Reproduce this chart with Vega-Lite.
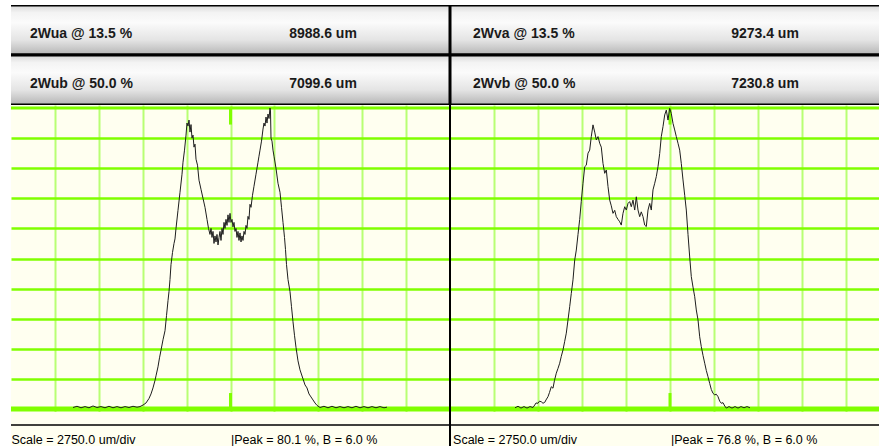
{
  "$schema": "https://vega.github.io/schema/vega-lite/v6.json",
  "background": "white",
  "padding": {"left": 8, "top": 5, "right": 0, "bottom": 0},
  "config": {
    "view": {"stroke": null},
    "axis": {"labels": false, "ticks": false, "domain": false, "minExtent": 0, "maxExtent": 0, "grid": true, "tickCount": 20},
    "axisX": {"gridColor": "#b8ff73", "gridWidth": 2},
    "axisY": {"gridColor": "#80ff00", "gridWidth": 2.5},
    "text": {"font": "Liberation Sans, Arial, sans-serif"}
  },
  "datasets": {
    "hdrL": [
      {"row": "a", "name": "2Wua @ 13.5 %", "val": "8988.6 um"},
      {"row": "b", "name": "2Wub @ 50.0 %", "val": "7099.6 um"}
    ],
    "hdrR": [
      {"row": "a", "name": "2Wva @ 13.5 %", "val": "9273.4 um"},
      {"row": "b", "name": "2Wvb @ 50.0 %", "val": "7230.8 um"}
    ],
    "left": [
      {"x":-9866,"y":0.5},{"x":-9615,"y":0.9},{"x":-9365,"y":0.4},{"x":-9114,"y":0.8},{"x":-8864,"y":0.4},{"x":-8613,"y":1.0},{"x":-8363,"y":0.5},{"x":-8112,"y":0.8},{"x":-7861,"y":0.4},{"x":-7611,"y":0.9},{"x":-7360,"y":0.4},{"x":-7110,"y":0.8},{"x":-6859,"y":0.4},{"x":-6609,"y":0.8},{"x":-6358,"y":0.5},{"x":-6107,"y":0.9},{"x":-5857,"y":0.6},{"x":-5669,"y":0.8},{"x":-5481,"y":1.3},{"x":-5293,"y":2.0},{"x":-5105,"y":3.5},{"x":-4980,"y":5},{"x":-4855,"y":7},{"x":-4729,"y":9.5},{"x":-4667,"y":11},{"x":-4542,"y":14},{"x":-4447,"y":17},{"x":-4354,"y":19.5},{"x":-4228,"y":23},{"x":-4103,"y":26},{"x":-4009,"y":31},{"x":-3915,"y":36},{"x":-3852,"y":39},{"x":-3790,"y":43},{"x":-3727,"y":48},{"x":-3633,"y":52},{"x":-3539,"y":55},{"x":-3477,"y":56.5},{"x":-3414,"y":60},{"x":-3289,"y":66},{"x":-3163,"y":72},{"x":-3038,"y":78},{"x":-2975,"y":82},{"x":-2881,"y":86},{"x":-2787,"y":91},{"x":-2725,"y":95},{"x":-2662,"y":94},{"x":-2599,"y":96},{"x":-2537,"y":92},{"x":-2474,"y":94.5},{"x":-2412,"y":90},{"x":-2349,"y":91},{"x":-2286,"y":87},{"x":-2224,"y":88},{"x":-2161,"y":83},{"x":-2067,"y":81},{"x":-1973,"y":76},{"x":-1848,"y":73},{"x":-1723,"y":70},{"x":-1597,"y":67},{"x":-1472,"y":63},{"x":-1378,"y":60},{"x":-1284,"y":58},{"x":-1221,"y":60},{"x":-1159,"y":57},{"x":-1096,"y":59},{"x":-1033,"y":55},{"x":-971,"y":57.5},{"x":-908,"y":55.5},{"x":-846,"y":58},{"x":-783,"y":54.5},{"x":-720,"y":57},{"x":-658,"y":59},{"x":-595,"y":56},{"x":-532,"y":60},{"x":-470,"y":58},{"x":-407,"y":62},{"x":-345,"y":60},{"x":-282,"y":63},{"x":-219,"y":61},{"x":-157,"y":64.5},{"x":-94,"y":62},{"x":-31,"y":65},{"x":31,"y":62},{"x":94,"y":63},{"x":157,"y":60.5},{"x":219,"y":62},{"x":282,"y":59},{"x":345,"y":60},{"x":407,"y":57},{"x":470,"y":59},{"x":532,"y":56},{"x":595,"y":58.5},{"x":658,"y":55.5},{"x":720,"y":57.5},{"x":783,"y":56},{"x":846,"y":59},{"x":908,"y":58},{"x":971,"y":61},{"x":1033,"y":60},{"x":1096,"y":64},{"x":1159,"y":63},{"x":1221,"y":68},{"x":1284,"y":67},{"x":1378,"y":71},{"x":1472,"y":74},{"x":1597,"y":78},{"x":1723,"y":82},{"x":1785,"y":84},{"x":1848,"y":86},{"x":1942,"y":89},{"x":2036,"y":93},{"x":2098,"y":95},{"x":2161,"y":94},{"x":2224,"y":97},{"x":2286,"y":95},{"x":2349,"y":98},{"x":2412,"y":96.5},{"x":2474,"y":100},{"x":2505,"y":99},{"x":2537,"y":90},{"x":2599,"y":89},{"x":2662,"y":86},{"x":2725,"y":84},{"x":2850,"y":80},{"x":2975,"y":75},{"x":3101,"y":72},{"x":3195,"y":67},{"x":3289,"y":62},{"x":3383,"y":57},{"x":3445,"y":53},{"x":3508,"y":48},{"x":3602,"y":43},{"x":3727,"y":39},{"x":3821,"y":34},{"x":3915,"y":29},{"x":4009,"y":24.5},{"x":4103,"y":20.5},{"x":4228,"y":16},{"x":4354,"y":13},{"x":4542,"y":10},{"x":4667,"y":8},{"x":4792,"y":7},{"x":4917,"y":5},{"x":5042,"y":4},{"x":5168,"y":3},{"x":5293,"y":2},{"x":5418,"y":1.2},{"x":5606,"y":0.5},{"x":5857,"y":0.9},{"x":6107,"y":0.4},{"x":6358,"y":0.9},{"x":6609,"y":0.4},{"x":6859,"y":0.8},{"x":7110,"y":0.4},{"x":7360,"y":0.8},{"x":7611,"y":0.4},{"x":7861,"y":0.9},{"x":8112,"y":0.4},{"x":8363,"y":0.8},{"x":8613,"y":0.4},{"x":8864,"y":0.8},{"x":9114,"y":0.4},{"x":9365,"y":0.8},{"x":9615,"y":0.4},{"x":9803,"y":0.6}
    ],
    "right": [
      {"x":-9688,"y":0.4},{"x":-9500,"y":0.9},{"x":-9313,"y":0.3},{"x":-9125,"y":0.8},{"x":-8938,"y":0.3},{"x":-8750,"y":0.8},{"x":-8563,"y":0.5},{"x":-8456,"y":1.3},{"x":-8375,"y":2.0},{"x":-8250,"y":1.9},{"x":-8156,"y":2.6},{"x":-8044,"y":2.4},{"x":-7938,"y":1.9},{"x":-7831,"y":2.2},{"x":-7750,"y":3.0},{"x":-7625,"y":4.1},{"x":-7531,"y":5.5},{"x":-7419,"y":7.4},{"x":-7313,"y":6.9},{"x":-7219,"y":9.5},{"x":-7106,"y":11.9},{"x":-7000,"y":13.5},{"x":-6894,"y":15.2},{"x":-6794,"y":17.5},{"x":-6688,"y":19.6},{"x":-6581,"y":22.5},{"x":-6481,"y":25.2},{"x":-6375,"y":29.6},{"x":-6269,"y":34},{"x":-6169,"y":38.4},{"x":-6063,"y":42.9},{"x":-5956,"y":49.5},{"x":-5856,"y":52.8},{"x":-5750,"y":58},{"x":-5644,"y":63},{"x":-5544,"y":69},{"x":-5438,"y":75},{"x":-5331,"y":80.5},{"x":-5231,"y":81},{"x":-5125,"y":85},{"x":-5019,"y":86},{"x":-4919,"y":90.5},{"x":-4813,"y":94.4},{"x":-4706,"y":92},{"x":-4606,"y":89.4},{"x":-4500,"y":90.5},{"x":-4394,"y":88.3},{"x":-4294,"y":87},{"x":-4188,"y":81.6},{"x":-4081,"y":78.3},{"x":-3981,"y":79.4},{"x":-3875,"y":73.9},{"x":-3769,"y":69.4},{"x":-3669,"y":67.5},{"x":-3563,"y":65},{"x":-3456,"y":66},{"x":-3356,"y":63.9},{"x":-3250,"y":63},{"x":-3144,"y":62.2},{"x":-3044,"y":61.1},{"x":-2938,"y":65},{"x":-2831,"y":67.2},{"x":-2731,"y":66.1},{"x":-2625,"y":68.3},{"x":-2519,"y":68.9},{"x":-2419,"y":67.2},{"x":-2313,"y":69.4},{"x":-2206,"y":66.1},{"x":-2106,"y":70.5},{"x":-2000,"y":66.1},{"x":-1894,"y":63.9},{"x":-1794,"y":65.5},{"x":-1688,"y":63.9},{"x":-1581,"y":61.1},{"x":-1481,"y":60.6},{"x":-1375,"y":66.1},{"x":-1269,"y":68.3},{"x":-1169,"y":66.1},{"x":-1063,"y":72.8},{"x":-956,"y":75},{"x":-856,"y":77.2},{"x":-750,"y":80.5},{"x":-644,"y":84.9},{"x":-544,"y":90.5},{"x":-438,"y":93.8},{"x":-331,"y":97.7},{"x":-231,"y":99.3},{"x":-125,"y":96},{"x":-19,"y":99.9},{"x":81,"y":98.2},{"x":188,"y":94.9},{"x":294,"y":92.7},{"x":394,"y":90.5},{"x":500,"y":88.3},{"x":606,"y":86},{"x":706,"y":81.6},{"x":813,"y":76.1},{"x":919,"y":71},{"x":1019,"y":66.1},{"x":1125,"y":58},{"x":1231,"y":50.5},{"x":1331,"y":44},{"x":1438,"y":40.5},{"x":1544,"y":37.3},{"x":1644,"y":32.9},{"x":1750,"y":29.6},{"x":1856,"y":24},{"x":1956,"y":20.7},{"x":2063,"y":17.8},{"x":2169,"y":15.2},{"x":2269,"y":12.8},{"x":2375,"y":10.7},{"x":2481,"y":8.5},{"x":2581,"y":6.5},{"x":2688,"y":5.2},{"x":2794,"y":4.7},{"x":2894,"y":4.9},{"x":3000,"y":4.1},{"x":3106,"y":2.6},{"x":3206,"y":1.9},{"x":3313,"y":2.1},{"x":3419,"y":1.0},{"x":3519,"y":0.3},{"x":3688,"y":0.8},{"x":3875,"y":0.3},{"x":4063,"y":0.8},{"x":4250,"y":0.3},{"x":4438,"y":0.8},{"x":4625,"y":0.4},{"x":4813,"y":0.8},{"x":5000,"y":0.4}
    ]
  },
  "columns": 2,
  "spacing": 0,
  "bounds": "flush",
  "align": "each",
  "concat": [
    {
      "width": 439, "height": 100,
      "data": {"name": "hdrL"},
      "encoding": {
        "y": {"field": "row", "type": "ordinal", "scale": {"paddingInner": 0, "paddingOuter": 0}, "axis": null}
      },
      "layer": [
        {
          "mark": {"type": "rect", "clip": true, "stroke": "#000000", "strokeWidth": 3,
            "fill": {"gradient": "linear", "x1": 0, "y1": 0, "x2": 0, "y2": 1,
              "stops": [{"offset": 0, "color": "#d6d6d6"}, {"offset": 0.15, "color": "#f3f3f3"}, {"offset": 0.35, "color": "#fbfbfb"}, {"offset": 0.7, "color": "#e4e4e4"}, {"offset": 1, "color": "#b4b4b4"}]}},
          "encoding": {
            "x": {"datum": -14500, "scale": {"domain": [-13750, 13750], "nice": false, "zero": false}, "axis": null},
            "x2": {"datum": 13750}
          }
        },
        {
          "mark": {"type": "text", "align": "left", "fontSize": 14, "fontWeight": "bold", "color": "#1a1a1a", "dy": 4},
          "encoding": {"x": {"datum": -12560}, "text": {"field": "name"}}
        },
        {
          "mark": {"type": "text", "align": "center", "fontSize": 14, "fontWeight": "bold", "color": "#1a1a1a", "dy": 4},
          "encoding": {"x": {"datum": 5794}, "text": {"field": "val"}}
        }
      ]
    },
    {
      "width": 432, "height": 100,
      "data": {"name": "hdrR"},
      "encoding": {
        "y": {"field": "row", "type": "ordinal", "scale": {"paddingInner": 0, "paddingOuter": 0}, "axis": null}
      },
      "layer": [
        {
          "mark": {"type": "rect", "clip": true, "stroke": "#000000", "strokeWidth": 3,
            "fill": {"gradient": "linear", "x1": 0, "y1": 0, "x2": 0, "y2": 1,
              "stops": [{"offset": 0, "color": "#d6d6d6"}, {"offset": 0.15, "color": "#f3f3f3"}, {"offset": 0.35, "color": "#fbfbfb"}, {"offset": 0.7, "color": "#e4e4e4"}, {"offset": 1, "color": "#b4b4b4"}]}},
          "encoding": {
            "x": {"datum": -13750, "scale": {"domain": [-13750, 13250], "nice": false, "zero": false}, "axis": null},
            "x2": {"datum": 15000}
          }
        },
        {
          "mark": {"type": "text", "align": "left", "fontSize": 14, "fontWeight": "bold", "color": "#1a1a1a", "dy": 4},
          "encoding": {"x": {"datum": -12312}, "text": {"field": "name"}}
        },
        {
          "mark": {"type": "text", "align": "center", "fontSize": 14, "fontWeight": "bold", "color": "#1a1a1a", "dy": 4},
          "encoding": {"x": {"datum": 5937}, "text": {"field": "val"}}
        }
      ]
    },
    {
      "width": 439, "height": 307,
      "view": {"fill": "#fffff0", "stroke": null},
      "layer": [
        {
          "data": {"values": [{}]},
          "mark": {"type": "rule", "color": "#80ff00", "strokeWidth": 5},
          "encoding": {
            "y": {"datum": 0, "scale": {"domain": [-1, 101], "nice": false, "zero": false}, "axis": {"values": [10, 20, 30, 40, 50, 60, 70, 80, 90], "tickCount": 20, "title": null}}
          }
        },
        {
          "data": {"values": [{}]},
          "mark": {"type": "rule", "color": "#80ff00", "strokeWidth": 3},
          "encoding": {"y": {"datum": 100}}
        },
        {
          "data": {"values": [{}]},
          "mark": {"type": "rule", "color": "#80ff00", "strokeWidth": 3},
          "encoding": {
            "x": {"datum": 0, "scale": {"domain": [-13750, 13750], "nice": false, "zero": false}, "axis": {"values": [-11000, -8250, -5500, -2750, 0, 2750, 5500, 8250, 11000], "tickCount": 20, "title": null}},
            "y": {"datum": 0}, "y2": {"datum": 5.3}
          }
        },
        {
          "data": {"values": [{}]},
          "mark": {"type": "rule", "color": "#80ff00", "strokeWidth": 3},
          "encoding": {"x": {"datum": 0}, "y": {"datum": 94.5}, "y2": {"datum": 100}}
        },
        {
          "data": {"name": "left"},
          "mark": {"type": "line", "color": "#1e1e1e", "strokeWidth": 1},
          "encoding": {
            "x": {"field": "x", "type": "quantitative"},
            "y": {"field": "y", "type": "quantitative"}
          }
        }
      ]
    },
    {
      "width": 432, "height": 307,
      "view": {"fill": "#fffff0", "stroke": null},
      "layer": [
        {
          "data": {"values": [{}]},
          "mark": {"type": "rule", "color": "#80ff00", "strokeWidth": 5},
          "encoding": {
            "y": {"datum": 0, "scale": {"domain": [-1, 101], "nice": false, "zero": false}, "axis": {"values": [10, 20, 30, 40, 50, 60, 70, 80, 90], "tickCount": 20, "title": null}}
          }
        },
        {
          "data": {"values": [{}]},
          "mark": {"type": "rule", "color": "#80ff00", "strokeWidth": 3},
          "encoding": {"y": {"datum": 100}}
        },
        {
          "data": {"values": [{}]},
          "mark": {"type": "rule", "color": "#80ff00", "strokeWidth": 3},
          "encoding": {
            "x": {"datum": 0, "scale": {"domain": [-13750, 13250], "nice": false, "zero": false}, "axis": {"values": [-11000, -8250, -5500, -2750, 0, 2750, 5500, 8250, 11000], "tickCount": 20, "title": null}},
            "y": {"datum": 0}, "y2": {"datum": 5.3}
          }
        },
        {
          "data": {"values": [{}]},
          "mark": {"type": "rule", "color": "#80ff00", "strokeWidth": 3},
          "encoding": {"x": {"datum": 0}, "y": {"datum": 94.5}, "y2": {"datum": 100}}
        },
        {
          "data": {"values": [{}]},
          "mark": {"type": "rule", "color": "#000000", "strokeWidth": 2},
          "encoding": {"x": {"datum": -13750}}
        },
        {
          "data": {"name": "right"},
          "mark": {"type": "line", "color": "#1e1e1e", "strokeWidth": 1},
          "encoding": {
            "x": {"field": "x", "type": "quantitative"},
            "y": {"field": "y", "type": "quantitative"}
          }
        }
      ]
    },
    {
      "width": 439, "height": 34,
      "view": {"fill": "#fffff0", "stroke": null},
      "layer": [
        {
          "data": {"values": [{}]},
          "mark": {"type": "rule", "color": "#000000", "strokeWidth": 1.5},
          "encoding": {
            "y": {"datum": 13, "scale": {"domain": [0, 34], "reverse": true, "nice": false, "zero": false}, "axis": null}
          }
        },
        {
          "data": {"values": [{"label": "Scale = 2750.0 um/div"}]},
          "mark": {"type": "text", "align": "left", "baseline": "alphabetic", "fontSize": 12.5, "color": "#000000"},
          "encoding": {
            "x": {"datum": -13720, "scale": {"domain": [-13750, 13750], "nice": false, "zero": false}, "axis": null},
            "y": {"datum": 31.5},
            "text": {"field": "label"}
          }
        },
        {
          "data": {"values": [{"label": "|Peak = 80.1 %, B = 6.0 %"}]},
          "mark": {"type": "text", "align": "left", "baseline": "alphabetic", "fontSize": 12.5, "color": "#000000"},
          "encoding": {"x": {"datum": 31}, "y": {"datum": 31.5}, "text": {"field": "label"}}
        }
      ]
    },
    {
      "width": 432, "height": 34,
      "view": {"fill": "#fffff0", "stroke": null},
      "layer": [
        {
          "data": {"values": [{}]},
          "mark": {"type": "rule", "color": "#000000", "strokeWidth": 1.5},
          "encoding": {
            "y": {"datum": 13, "scale": {"domain": [0, 34], "reverse": true, "nice": false, "zero": false}, "axis": null}
          }
        },
        {
          "data": {"values": [{}]},
          "mark": {"type": "rule", "color": "#000000", "strokeWidth": 2},
          "encoding": {"x": {"datum": -13750, "scale": {"domain": [-13750, 13250], "nice": false, "zero": false}, "axis": null}}
        },
        {
          "data": {"values": [{"label": "Scale = 2750.0 um/div"}]},
          "mark": {"type": "text", "align": "left", "baseline": "alphabetic", "fontSize": 12.5, "color": "#000000"},
          "encoding": {"x": {"datum": -13560}, "y": {"datum": 31.5}, "text": {"field": "label"}}
        },
        {
          "data": {"values": [{"label": "|Peak = 76.8 %, B = 6.0 %"}]},
          "mark": {"type": "text", "align": "left", "baseline": "alphabetic", "fontSize": 12.5, "color": "#000000"},
          "encoding": {"x": {"datum": 62}, "y": {"datum": 31.5}, "text": {"field": "label"}}
        }
      ]
    }
  ]
}
